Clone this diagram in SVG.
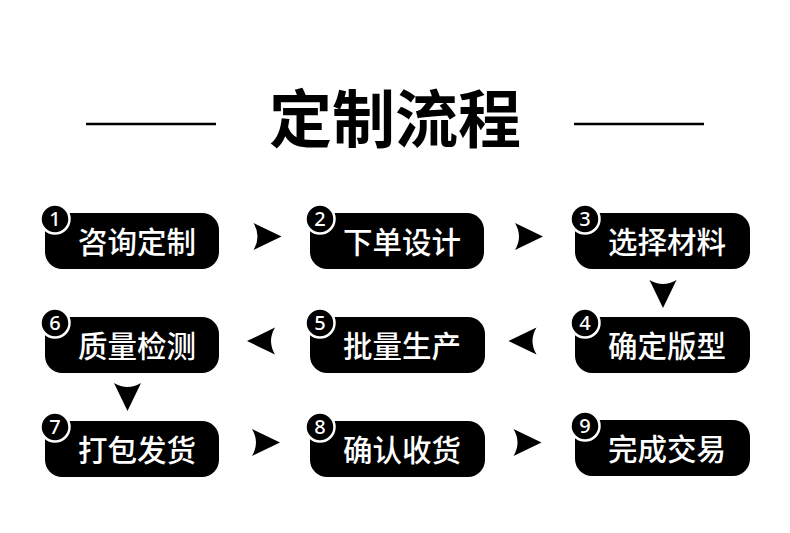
<svg xmlns="http://www.w3.org/2000/svg" width="790" height="533" viewBox="0 0 790 533">
<style>
.box{fill:#000}
.badge{fill:#000;stroke:#fff;stroke-width:2.5}
.num{fill:#fff;font-family:"Noto Sans","Liberation Sans",sans-serif;font-size:20px;font-weight:500;text-anchor:middle}
.lbl{fill:#fff;font-family:"Noto Sans CJK SC",sans-serif;font-size:29.5px;font-weight:500;text-anchor:middle}
.title{fill:#000;font-family:"Noto Sans CJK SC",sans-serif;font-size:63px;font-weight:700;text-anchor:middle}
.rule{stroke:#000;stroke-width:2.5}
</style>
<defs>
<path id="arr" d="M-14,-13.5 L14,0 L-14,13.5 Q-6,0 -14,-13.5 Z" fill="#000"/>
</defs>
<rect width="790" height="533" fill="#fff"/>
<g id="header">
<line class="rule" x1="86" y1="124" x2="216" y2="124"/>
<line class="rule" x1="574" y1="124" x2="704" y2="124"/>
<text class="title" x="395" y="142">定制流程</text>
</g>
<g id="connectors">
<use href="#arr" transform="translate(267.5,236.5)"/>
<use href="#arr" transform="translate(529,236.5)"/>
<use href="#arr" transform="translate(663,294) rotate(90)"/>
<use href="#arr" transform="translate(522.5,341) rotate(180)"/>
<use href="#arr" transform="translate(261,341) rotate(180)"/>
<use href="#arr" transform="translate(127.5,397) rotate(90)"/>
<use href="#arr" transform="translate(266,442.5)"/>
<use href="#arr" transform="translate(527.5,442.5)"/>
</g>
<g id="n1"><rect class="box" x="45" y="213" width="174" height="56" rx="17"/><circle class="badge" cx="55" cy="219" r="14.5"/><text class="num" x="55" y="226">1</text><text class="lbl" x="137" y="253">咨询定制</text></g>
<g id="n2"><rect class="box" x="310" y="213" width="174" height="56" rx="17"/><circle class="badge" cx="320" cy="219" r="14.5"/><text class="num" x="320" y="226">2</text><text class="lbl" x="402" y="253">下单设计</text></g>
<g id="n3"><rect class="box" x="575" y="213" width="175" height="56" rx="17"/><circle class="badge" cx="585" cy="219" r="14.5"/><text class="num" x="585" y="226">3</text><text class="lbl" x="667" y="253">选择材料</text></g>
<g id="n4"><rect class="box" x="575" y="317" width="175" height="56" rx="17"/><circle class="badge" cx="585" cy="323" r="14.5"/><text class="num" x="585" y="330">4</text><text class="lbl" x="667" y="357">确定版型</text></g>
<g id="n5"><rect class="box" x="310" y="317" width="175" height="56" rx="17"/><circle class="badge" cx="320" cy="323" r="14.5"/><text class="num" x="320" y="330">5</text><text class="lbl" x="402" y="357">批量生产</text></g>
<g id="n6"><rect class="box" x="45" y="317" width="174" height="56" rx="17"/><circle class="badge" cx="55" cy="323" r="14.5"/><text class="num" x="55" y="330">6</text><text class="lbl" x="137" y="357">质量检测</text></g>
<g id="n7"><rect class="box" x="45" y="421" width="174" height="56" rx="17"/><circle class="badge" cx="55" cy="427" r="14.5"/><text class="num" x="55" y="434">7</text><text class="lbl" x="137" y="461">打包发货</text></g>
<g id="n8"><rect class="box" x="310" y="421" width="175" height="56" rx="17"/><circle class="badge" cx="320" cy="427" r="14.5"/><text class="num" x="320" y="434">8</text><text class="lbl" x="402" y="461">确认收货</text></g>
<g id="n9"><rect class="box" x="575" y="420" width="175" height="56" rx="17"/><circle class="badge" cx="585" cy="426" r="14.5"/><text class="num" x="585" y="433">9</text><text class="lbl" x="667" y="460">完成交易</text></g>
</svg>
